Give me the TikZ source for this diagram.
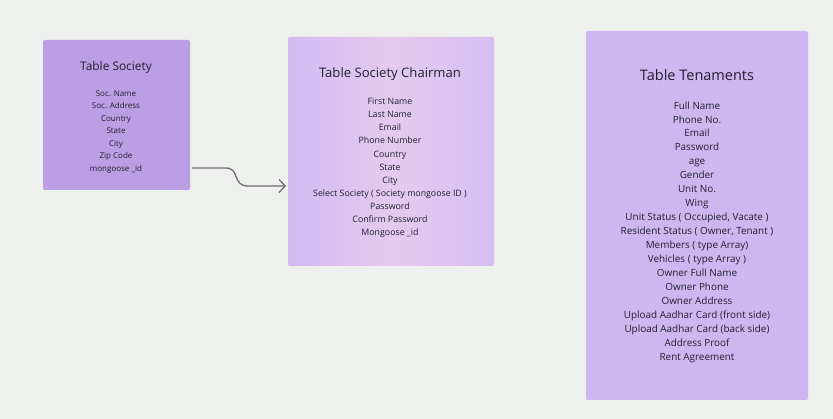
\documentclass[tikz,border=0pt]{standalone}
\usepackage{fontspec}
\setmainfont{Open Sans}
\usetikzlibrary{arrows.meta}
\definecolor{bgc}{HTML}{EEF0EE}
\definecolor{socc}{HTML}{BC9EE4}
\definecolor{chl}{HTML}{D2BAF2}
\definecolor{chm}{HTML}{E4CAF0}
\definecolor{chr}{HTML}{D6BEF2}
\definecolor{tenc}{HTML}{CEB6F0}
\definecolor{txt}{HTML}{222030}
\definecolor{arrc}{HTML}{6E6E6E}
\begin{document}
\begin{tikzpicture}[x=1pt,y=-1pt,
  tablebox/.style={rounded corners=2pt, draw=none},
  titletext/.style={inner sep=0pt, text=txt},
  listtext/.style={inner sep=0pt, text=txt, align=center},
  connector/.style={draw=arrc, line width=1.3pt, -{Straight Barb[length=6pt,width=13pt,line width=1.3pt]}}
]
\fill[bgc] (0,0) rectangle (833,419);
\useasboundingbox (0,0) rectangle (833,419);

% Society
\fill[tablebox, socc] (43,40) rectangle (190,190);
\node[titletext, font=\fontsize{11.9}{13}\selectfont] (soct) at (116,67) {Table Society};
\node[listtext, font=\fontsize{8}{12.5}\selectfont] (socl) at (116,132) {Soc. Name\\Soc. Address\\Country\\State\\City\\Zip Code\\mongoose \_id};

% Chairman
\shade[tablebox, left color=chl, right color=chr, middle color=chm] (288,37) rectangle (494,266);
\node[titletext, font=\fontsize{13.1}{14}\selectfont] (cht) at (390,74) {Table Society Chairman};
\node[listtext, font=\fontsize{8.8}{13.1}\selectfont] (chl) at (390,168) {First Name\\Last Name\\Email\\Phone Number\\Country\\State\\City\\Select Society ( Society mongoose ID )\\Password\\Confirm Password\\Mongoose \_id};

% Tenaments
\fill[tablebox, tenc] (586,31) rectangle (808,400);
\node[titletext, font=\fontsize{14.5}{16}\selectfont] (tent) at (697,75) {Table Tenaments};
\node[listtext, font=\fontsize{9.9}{13.94}\selectfont] (tenl) at (697,232) {Full Name\\Phone No.\\Email\\Password\\age\\Gender\\Unit No.\\Wing\\Unit Status ( Occupied, Vacate )\\Resident Status ( Owner, Tenant )\\Members ( type Array)\\Vehicles ( type Array )\\Owner Full Name\\Owner Phone\\Owner Address\\Upload Aadhar Card (front side)\\Upload Aadhar Card (back side)\\Address Proof\\Rent Agreement};

% connector
\coordinate (a) at (192,168);
\coordinate (b) at (286,186);
\draw[connector] (a) -- (226,168) .. controls (240,168) and (232,186) .. (248,186) -- (b);
\end{tikzpicture}
\end{document}
